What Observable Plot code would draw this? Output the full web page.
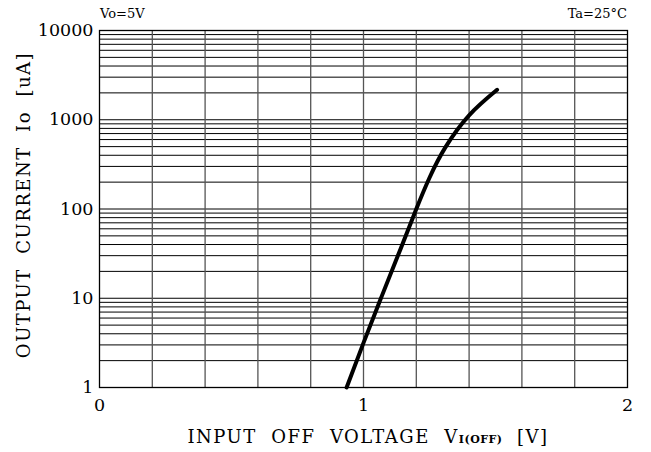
<!DOCTYPE html>
<html>
<head>
<meta charset="utf-8">
<script src="https://cdn.jsdelivr.net/npm/d3@7"></script>
<script src="https://cdn.jsdelivr.net/npm/@observablehq/plot@0.6"></script>
<style>
  html, body { margin: 0; padding: 0; background: #fff; }
  #chart svg { display: block; }
</style>
</head>
<body>
<div id="chart"></div>
<script>
// Curve data
const voltage = [0.936, 1.0, 1.07, 1.14, 1.2, 1.25, 1.31, 1.4, 1.506];
const current = [1, 3.16, 10.7, 35.5, 100, 224, 490, 1122, 2167];

// Axis ticks
const yTickValues = [1, 10, 100, 1000, 10000];
const yTickLabels = ["1", "10", "100", "1000", "10000"];
const xTickValues = [0, 1, 2];
const xTickLabels = ["0", "1", "2"];
const xGrid = [0.2, 0.4, 0.6, 0.8, 1.0, 1.2, 1.4, 1.6, 1.8];
const yMinorMultipliers = [1, 2, 3, 4, 5, 6, 7, 8, 9];
const decades = [1, 10, 100, 1000];

const yGrid = decades.flatMap(d => yMinorMultipliers.map(m => d * m)).filter(v => v > 1);
const curveData = voltage.map((v, i) => ({v, i: current[i]}));

const font = "'DejaVu Serif', 'Liberation Serif', serif";

const plot = Plot.plot({
  width: 651,
  height: 452,
  marginLeft: 99,
  marginRight: 24,
  marginTop: 30,
  marginBottom: 65,
  style: {fontFamily: font, fontSize: "16px", background: "#fff", color: "#000"},
  x: {domain: [0, 2], axis: null},
  y: {type: "log", domain: [1, 10000], axis: null},
  marks: [
    Plot.ruleY(yGrid, {stroke: "#000", strokeWidth: 1}),
    Plot.ruleX(xGrid, {stroke: "#555", strokeWidth: 1.3}),
    Plot.frame({stroke: "#000", strokeWidth: 1.3}),
    Plot.line(curveData, {x: "v", y: "i", stroke: "#000", strokeWidth: 4, curve: "natural"}),
    Plot.text(yTickValues, {x: 0, y: d => d, text: (d, i) => yTickLabels[i], textAnchor: "end", dx: -6, fontSize: 17.5, fill: "#000"}),
    Plot.text(xTickValues, {x: d => d, y: 1, text: (d, i) => xTickLabels[i], dy: 18, fontSize: 17.5, fill: "#000"})
  ]
});

const svg = d3.select(plot);
// Corner annotations
svg.append("text").attr("x", 100).attr("y", 18).attr("text-anchor", "start").attr("font-family", font).attr("font-size", 13).attr("fill", "#000").text("Vo=5V");
svg.append("text").attr("x", 627).attr("y", 18).attr("text-anchor", "end").attr("font-family", font).attr("font-size", 13).attr("fill", "#000").text("Ta=25°C");

// X axis title
const xt = svg.append("text").attr("x", 368).attr("y", 443).attr("text-anchor", "middle")
  .attr("font-family", font).attr("font-size", 18).attr("letter-spacing", 1.5).attr("fill", "#000").style("white-space", "pre");
xt.append("tspan").text("INPUT  OFF  VOLTAGE  V");
xt.append("tspan").attr("font-size", 11).attr("font-weight", "bold").attr("letter-spacing", 0.5).text("I(OFF)");
xt.append("tspan").text("  [V]");

// Y axis title
const yt = svg.append("text").attr("transform", "translate(30,205) rotate(-90)").attr("text-anchor", "middle")
  .attr("font-family", font).attr("font-size", 18).attr("letter-spacing", 1.5).attr("fill", "#000").style("white-space", "pre");
yt.text("OUTPUT  CURRENT  Io  [uA]");

document.getElementById("chart").append(plot);
</script>
</body>
</html>
